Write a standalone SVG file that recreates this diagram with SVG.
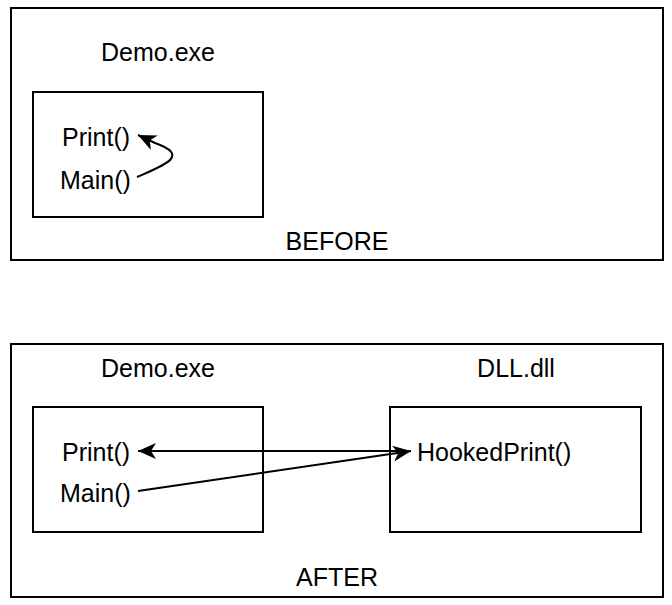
<svg xmlns="http://www.w3.org/2000/svg" width="672" height="605" viewBox="0 0 672 605">
<style>
.box{fill:#fff;stroke:#000;stroke-width:2}
.t{font-family:"Liberation Sans",Arial,sans-serif;font-size:25px;fill:#000}
.c{text-anchor:middle}
.e{fill:none;stroke:#000;stroke-width:2}
</style>
<defs>
<marker id="ah" markerUnits="userSpaceOnUse" markerWidth="22" markerHeight="18" refX="18" refY="9" orient="auto">
<path d="M0,1 L18,9 L0,17 L5,9 Z" fill="#000"/>
</marker>
</defs>
<rect width="672" height="605" fill="#fff"/>
<g id="before">
<rect class="box" x="11" y="8" width="652" height="252"/>
<text class="t c" x="337" y="250">BEFORE</text>
<text class="t c" x="158" y="61">Demo.exe</text>
</g>
<g id="before-exe">
<rect class="box" x="33" y="92" width="230" height="125"/>
<text class="t" x="62" y="146">Print()</text>
<text class="t" x="60" y="189">Main()</text>
</g>
<g id="after">
<rect class="box" x="11" y="344" width="652" height="253"/>
<text class="t c" x="337" y="586">AFTER</text>
<text class="t c" x="158" y="377">Demo.exe</text>
<text class="t c" x="516" y="377">DLL.dll</text>
</g>
<g id="after-exe">
<rect class="box" x="33" y="407" width="230" height="125"/>
<text class="t" x="62" y="461">Print()</text>
<text class="t" x="60" y="502">Main()</text>
</g>
<g id="dll">
<rect class="box" x="390" y="407" width="251" height="125"/>
<text class="t" x="417" y="461">HookedPrint()</text>
</g>
<g id="connectors">
<path class="e" d="M137,177 C162,166 192,156 155,143 L138,135" marker-end="url(#ah)"/>
<path class="e" d="M400,451 L138,451" marker-end="url(#ah)"/>
<path class="e" d="M138,491 L411,451" marker-end="url(#ah)"/>
</g>
</svg>
